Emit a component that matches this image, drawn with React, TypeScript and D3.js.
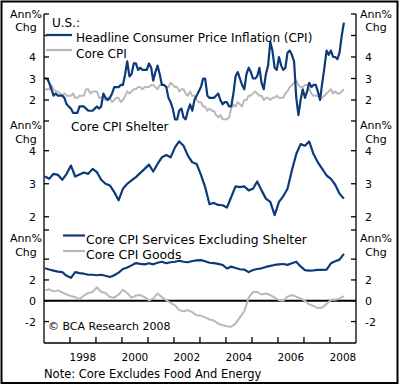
import React, { useEffect, useRef } from 'react';
import * as d3 from 'd3';

// monthly series start Jan 1997, annual % change
const headlineCpi = [
  3.0, 3.0, 2.8, 2.5, 2.2, 2.3, 2.2, 2.2, 2.2, 2.1, 1.8, 1.7,
  1.6, 1.4, 1.4, 1.4, 1.7, 1.7, 1.7, 1.6, 1.5, 1.5, 1.5, 1.6,
  1.7, 1.6, 1.7, 2.3, 2.1, 2.0, 2.1, 2.3, 2.6, 2.6, 2.6, 2.7,
  2.7, 3.2, 3.8, 3.1, 3.2, 3.7, 3.7, 3.4, 3.5, 3.4, 3.4, 3.4,
  3.7, 3.5, 2.9, 3.3, 3.6, 3.2, 2.7, 2.7, 2.6, 2.1, 1.9, 1.6,
  1.1, 1.1, 1.5, 1.6, 1.2, 1.1, 1.5, 1.8, 1.5, 2.0, 2.2, 2.4,
  2.6, 3.0, 3.0, 2.2, 2.1, 2.1, 2.1, 2.2, 2.3, 2.0, 1.8, 1.9,
  1.9, 1.7, 1.7, 2.3, 3.1, 3.3, 3.0, 2.7, 2.5, 3.2, 3.5, 3.3,
  3.0, 3.0, 3.1, 3.5, 2.8, 2.5, 3.2, 3.6, 4.7, 4.3, 3.5, 3.4,
  4.0, 3.6, 3.4, 3.5, 4.2, 4.3, 4.1, 3.8, 2.1, 1.3, 2.0, 2.5,
  2.1, 2.4, 2.8, 2.6, 2.7, 2.7, 2.4, 2.0, 2.8, 3.5, 4.3, 4.1,
  4.3, 4.0, 4.0, 3.9, 4.2, 5.0, 5.6
];

const coreCpi = [
  2.5, 2.5, 2.5, 2.7, 2.5, 2.4, 2.4, 2.3, 2.2, 2.3, 2.2, 2.2,
  2.2, 2.3, 2.1, 2.1, 2.2, 2.2, 2.2, 2.5, 2.5, 2.3, 2.4, 2.4,
  2.4, 2.1, 2.1, 2.2, 2.0, 2.1, 2.1, 1.9, 2.0, 2.1, 2.1, 1.9,
  2.0, 2.2, 2.4, 2.3, 2.4, 2.5, 2.5, 2.6, 2.6, 2.5, 2.6, 2.6,
  2.6, 2.7, 2.7, 2.6, 2.5, 2.7, 2.7, 2.7, 2.6, 2.6, 2.8, 2.7,
  2.6, 2.6, 2.4, 2.5, 2.5, 2.3, 2.2, 2.4, 2.2, 2.2, 2.0, 1.9,
  1.9, 1.7, 1.7, 1.5, 1.6, 1.5, 1.5, 1.3, 1.2, 1.3, 1.1, 1.1,
  1.1, 1.2, 1.6, 1.8, 1.7, 1.9, 1.8, 1.7, 2.0, 2.0, 2.2, 2.2,
  2.3, 2.4, 2.3, 2.2, 2.2, 2.0, 2.1, 2.1, 2.0, 2.1, 2.1, 2.2,
  2.1, 2.1, 2.1, 2.3, 2.4, 2.6, 2.7, 2.8, 2.9, 2.7, 2.6, 2.6,
  2.7, 2.7, 2.5, 2.3, 2.2, 2.2, 2.2, 2.1, 2.1, 2.2, 2.3, 2.4,
  2.5, 2.3, 2.4, 2.3, 2.3, 2.4, 2.5
];

// bi-monthly series start Jan 1997
const coreShelter = [
  3.22, 3.15, 3.3, 3.27, 3.12, 3.3, 3.55, 3.22, 3.28, 3.34,
  3.3, 3.45, 3.35, 3.12, 3.0, 2.95, 2.75, 2.5, 2.85, 3.0,
  3.1, 3.2, 3.33, 3.45, 3.58, 3.37, 3.6, 3.8, 3.87, 3.8,
  4.1, 4.28, 4.15, 3.85, 3.65, 3.6, 3.27, 2.9, 2.38, 2.42,
  2.36, 2.35, 2.28, 2.6, 2.92, 2.9, 2.92, 2.8, 2.85, 3.07,
  2.8, 2.55, 2.45, 2.05, 2.45, 2.62, 2.85, 3.4, 3.9, 4.2,
  4.15, 4.28, 3.9, 3.65, 3.45, 3.25, 3.15, 2.97, 2.7, 2.55
];

const coreServicesExShelter = [
  3.12, 3.0, 2.9, 2.8, 2.75, 2.4, 2.2, 2.75, 2.65, 2.6,
  2.5, 2.5, 2.45, 2.5, 2.4, 2.28, 2.45, 2.7, 3.05, 3.2,
  3.4, 3.62, 3.55, 3.5, 3.6, 3.5, 3.65, 3.75, 3.6, 3.7,
  3.75, 3.85, 3.75, 3.7, 3.82, 3.88, 3.9, 3.8, 3.65, 3.62,
  3.55, 3.44, 3.1, 3.28, 3.15, 3.03, 3.0, 2.75, 2.96, 3.05,
  3.12, 3.25, 3.35, 3.44, 3.5, 3.53, 3.45, 3.6, 3.75, 3.3,
  2.95, 2.89, 2.92, 2.96, 2.96, 3.0, 3.6, 3.8, 3.95, 4.5
];

const coreGoods = [
  1.0, 1.1, 0.9, 1.0, 0.8, 0.6, 0.45, 0.35, 0.15, 0.5,
  0.75, 0.85, 1.3, 0.85, 0.75, 0.35, 0.3, 0.6, 1.05, 0.75,
  0.3, 0.5, 0.55, 0.35, 0.05, 0.2, 0.7, 0.35, 0.05, -0.2,
  -0.45, -0.9, -1.0, -0.9, -1.1, -1.4, -1.45, -1.6, -1.8, -1.9,
  -2.2, -2.35, -2.45, -2.5, -2.2, -1.6, -1.0, 0.3, 0.85, 0.85,
  0.6, 0.7, 0.55, 0.3, 0.05, 0.0, 0.4, 0.55, 0.4, 0.2,
  0.0, -0.35, -0.5, -0.7, -0.65, -0.3, 0.1, 0.1, 0.2, 0.45
];

const yearTicks = [1998, 1999, 2000, 2001, 2002, 2003, 2004, 2005, 2006, 2007, 2008];
const yearLabels = [1998, 2000, 2002, 2004, 2006, 2008];

const BLUE = '#0c3a78';
const GRAY = '#b9b9b9';
const FONT = 'DejaVu Sans, Verdana, sans-serif';

const App: React.FC = () => {
  const svgRef = useRef<SVGSVGElement>(null);

  useEffect(() => {
    if (!svgRef.current) return;
    const svg = d3.select(svgRef.current);
    svg.selectAll('*').remove();

    const left = 44;
    const right = 356;
    const bottom = 343;

    const x = d3.scaleTime()
      .domain([new Date(1997, 0, 1), new Date(2009, 0, 1)])
      .range([left, right]);

    // one scale per panel
    const y1 = d3.scaleLinear().domain([1, 6]).range([121.5, 14]);
    const y2 = d3.scaleLinear().domain([1.6, 4.9]).range([230, 121]);
    const y3 = d3.scaleLinear().domain([-4.06, 6.8]).range([bottom, 230]);

    const panels = [
      { y: y1, ticks: [2, 3, 4, 5, 6], labels: [2, 3, 4], ann: 18, chg: 31 },
      { y: y2, ticks: [2, 3, 4, 4.9], labels: [2, 3, 4], ann: 129, chg: 143 },
      { y: y3, ticks: [-2, 0, 2, 4, 6.8], labels: [-2, 0, 2], ann: 242, chg: 256 }
    ];

    // outer frame
    svg.append('rect')
      .attr('x', 1.5).attr('y', 1.5)
      .attr('width', 396).attr('height', 381.5)
      .attr('fill', 'none').attr('stroke', '#000').attr('stroke-width', 2);

    const drawSeries = (values: number[], step: number, y: d3.ScaleLinear<number, number>, color: string, width: number) => {
      const pts = values.map((v, i) => ({ date: new Date(1997, i * step, 15), v }));
      const line = d3.line<{ date: Date; v: number }>()
        .x(d => x(d.date))
        .y(d => y(d.v));
      svg.append('path')
        .datum(pts)
        .attr('d', line)
        .attr('fill', 'none')
        .attr('stroke', color)
        .attr('stroke-width', width)
        .attr('stroke-linejoin', 'round');
    };

    // zero line in bottom panel
    svg.append('line')
      .attr('x1', left).attr('x2', right)
      .attr('y1', y3(0)).attr('y2', y3(0))
      .attr('stroke', '#000').attr('stroke-width', 2);

    drawSeries(coreCpi, 1, y1, GRAY, 2);
    drawSeries(headlineCpi, 1, y1, BLUE, 2.2);
    drawSeries(coreShelter, 2, y2, BLUE, 2.2);
    drawSeries(coreGoods, 2, y3, GRAY, 2);
    drawSeries(coreServicesExShelter, 2, y3, BLUE, 2.2);

    // axes frame
    const axis = svg.append('g').attr('stroke', '#000').attr('stroke-width', 1.3);
    axis.append('line').attr('x1', left).attr('x2', left).attr('y1', 14).attr('y2', bottom);
    axis.append('line').attr('x1', right).attr('x2', right).attr('y1', 14).attr('y2', bottom);
    axis.append('line').attr('x1', left).attr('x2', right).attr('y1', bottom).attr('y2', bottom);

    const text = (tx: number, ty: number, s: string, anchor = 'start', size = 12) =>
      svg.append('text')
        .attr('x', tx).attr('y', ty)
        .attr('font-family', FONT)
        .attr('font-size', size)
        .attr('fill', '#000')
        .attr('text-anchor', anchor)
        .text(s);

    panels.forEach(p => {
      p.ticks.forEach(t => {
        const ty = p.y(t);
        axis.append('line').attr('x1', left).attr('x2', left + 5).attr('y1', ty).attr('y2', ty);
        axis.append('line').attr('x1', right - 5).attr('x2', right).attr('y1', ty).attr('y2', ty);
      });
      p.labels.forEach(t => {
        text(36, p.y(t) + 4, String(t), 'end', 11);
        text(365, p.y(t) + 4, String(t), 'start', 11);
      });
      text(26, p.ann, 'Ann%', 'middle', 11);
      text(26, p.chg, 'Chg', 'middle', 11);
      text(376, p.ann, 'Ann%', 'middle', 11);
      text(376, p.chg, 'Chg', 'middle', 11);
    });

    // x ticks and year labels
    yearTicks.forEach(yr => {
      const tx = x(new Date(yr, 0, 1));
      axis.append('line').attr('x1', tx).attr('x2', tx).attr('y1', bottom - 6).attr('y2', bottom);
    });
    yearLabels.forEach(yr => {
      text(x(new Date(yr, 6, 1)), 360.5, String(yr), 'middle', 10.5);
    });

    // legends and titles
    const legendLine = (x1: number, x2: number, ly: number, color: string) =>
      svg.append('line')
        .attr('x1', x1).attr('x2', x2).attr('y1', ly).attr('y2', ly)
        .attr('stroke', color).attr('stroke-width', 2.2);

    text(52, 27, 'U.S.:');
    legendLine(46, 72, 35, BLUE);
    text(76, 42, 'Headline Consumer Price Inflation (CPI)');
    legendLine(46, 72, 50, GRAY);
    text(76, 58, 'Core CPI');

    text(71, 131, 'Core CPI Shelter');

    legendLine(63, 85, 235.5, BLUE);
    text(86, 243.5, 'Core CPI Services Excluding Shelter', 'start', 12.4);
    legendLine(63, 85, 251, GRAY);
    text(86, 259, 'Core CPI Goods', 'start', 12.4);

    text(48, 329.5, '\u00A9 BCA Research 2008', 'start', 11);
    text(44, 378, 'Note: Core Excludes Food And Energy', 'start', 11.5);
  }, []);

  return (
    <div style={{ position: 'absolute', left: 0, top: 0 }}>
      <svg ref={svgRef} width={400} height={386} style={{ display: 'block', background: '#fff' }}></svg>
    </div>
  );
};

export default App;
